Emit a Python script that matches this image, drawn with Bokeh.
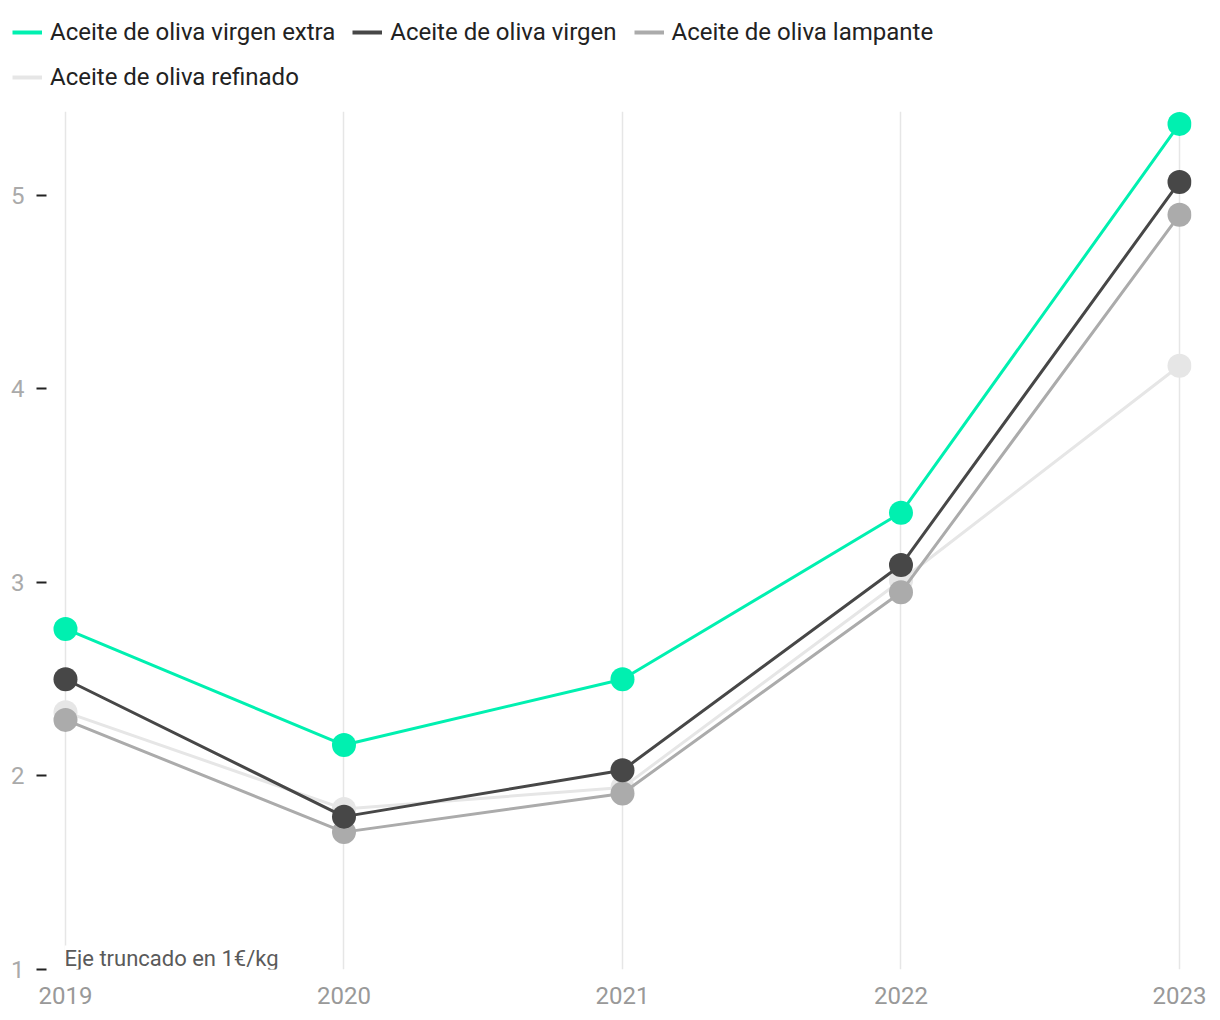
from bokeh.plotting import figure
from bokeh.layouts import column
from bokeh.models import Legend, LegendItem, FixedTicker, Range1d
from bokeh.core.properties import value
from bokeh.embed import file_html
from bokeh.resources import INLINE

years = [2019, 2020, 2021, 2022, 2023]
extra = [2.76, 2.16, 2.50, 3.36, 5.37]
virgen = [2.50, 1.79, 2.03, 3.09, 5.07]
lampante = [2.29, 1.71, 1.91, 2.95, 4.90]
refinado = [2.33, 1.83, 1.94, 3.01, 4.12]
names = ["Aceite de oliva virgen extra", "Aceite de oliva virgen",
         "Aceite de oliva lampante", "Aceite de oliva refinado"]
colors = ["#00F0B0", "#474747", "#ABABAB", "#E6E6E6"]
y_ticks = [1, 2, 3, 4, 5]
note = "Eje truncado en 1€/kg"

FONT = "Roboto"
W = 1212
LEG_H = 111
MAIN_H = 901
series = [extra, virgen, lampante, refinado]

# ---- legend strip (its own small figure; the proxy lines fall outside its frame) ----
pl = figure(width=W, height=LEG_H, output_backend="svg", toolbar_location=None,
            x_axis_type=None, y_axis_type=None, min_border=0,
            x_range=Range1d(0, 1), y_range=Range1d(0, 1))
pl.outline_line_color = None
proxies = [pl.line(years, series[i], line_color=colors[i], line_width=4) for i in range(4)]
items = [LegendItem(label=names[i], renderers=[proxies[i]]) for i in range(4)]
legend = Legend(items=items, ncols=3, orientation="horizontal", location=(12, 20),
                border_line_color=None, background_fill_alpha=0,
                label_text_font=FONT, label_text_font_size="24px", label_text_color="#222222",
                glyph_width=30, glyph_height=28, label_height=28, label_standoff=8,
                spacing=17, padding=0, margin=0)
pl.add_layout(legend, "center")

# ---- main chart ----
p = figure(width=W, height=MAIN_H, output_backend="svg", toolbar_location=None,
           x_range=Range1d(2018.9318, 2023.0431), y_range=Range1d(1, 5.434),
           min_border_left=46, min_border_right=21, min_border_bottom=43, min_border_top=0)
p.outline_line_color = None

p.ygrid.grid_line_color = None
p.xgrid.ticker = FixedTicker(ticks=years)
p.xgrid.grid_line_color = "#E6E6E6"
p.xgrid.grid_line_width = 1.5

p.xaxis.ticker = FixedTicker(ticks=years)
p.xaxis.axis_line_color = None
p.xaxis.major_tick_line_color = None
p.xaxis.minor_tick_line_color = None
p.xaxis.major_tick_out = 0
p.xaxis.major_tick_in = 0
p.xaxis.minor_tick_out = 0
p.xaxis.major_label_standoff = 17
p.xaxis.major_label_text_font = FONT
p.xaxis.major_label_text_font_size = "24px"
p.xaxis.major_label_text_color = "#999999"

p.yaxis.ticker = FixedTicker(ticks=y_ticks)
p.yaxis.axis_line_color = None
p.yaxis.minor_tick_line_color = None
p.yaxis.minor_tick_out = 0
p.yaxis.major_tick_line_color = "#222222"
p.yaxis.major_tick_line_width = 2
p.yaxis.major_tick_in = 0
p.yaxis.major_tick_out = 10
p.yaxis.major_label_standoff = 12
p.yaxis.major_label_text_font = FONT
p.yaxis.major_label_text_font_size = "24px"
p.yaxis.major_label_text_color = "#AAAAAA"

for i in [3, 2, 1, 0]:
    p.line(years, series[i], line_color=colors[i], line_width=3)
    p.scatter(years, series[i], size=24, fill_color=colors[i], line_color=None)

p.text(x=[years[0]], y=[y_ticks[0]], text=[note], text_font=value(FONT),
       text_font_size="22px", text_color="#5A5A5A", text_baseline="bottom",
       text_align="left", y_offset=1, x_offset=-1,
       background_fill_color="white")

layout = column(column(pl, spacing=0), p, spacing=0)
open("out.html", "w").write(file_html(layout, INLINE))
